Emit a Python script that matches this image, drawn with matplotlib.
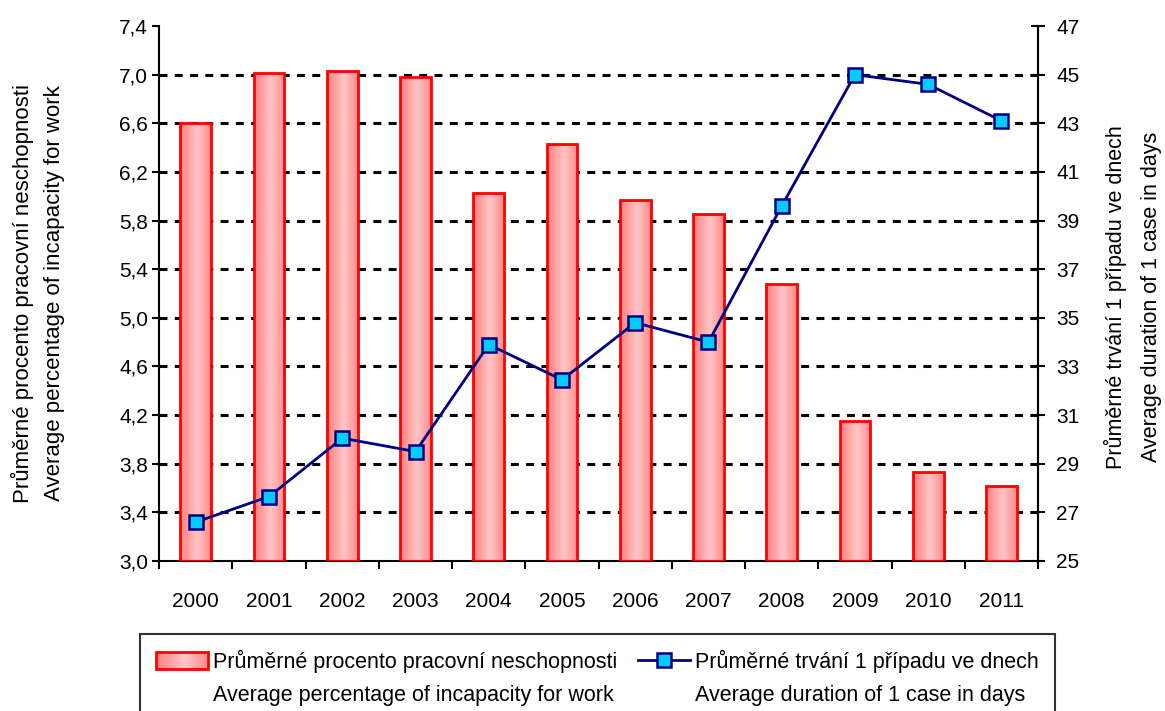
import numpy as np
import matplotlib
matplotlib.use("Agg")
import matplotlib.pyplot as plt
from matplotlib.colors import LinearSegmentedColormap
from matplotlib.patches import Rectangle
from matplotlib.lines import Line2D
from matplotlib.legend_handler import HandlerBase

# ---------- data ----------
years = ["2000", "2001", "2002", "2003", "2004", "2005",
         "2006", "2007", "2008", "2009", "2010", "2011"]
pct_incapacity = [6.60, 7.01, 7.03, 6.98, 6.03, 6.43,
                  5.97, 5.85, 5.28, 4.15, 3.73, 3.62]
avg_duration = [26.6, 27.65, 30.05, 29.5, 33.9, 32.45,
                34.8, 34.0, 39.6, 45.0, 44.6, 43.1]

left_ticks = [3.0, 3.4, 3.8, 4.2, 4.6, 5.0, 5.4, 5.8, 6.2, 6.6, 7.0, 7.4]
right_ticks = [25, 27, 29, 31, 33, 35, 37, 39, 41, 43, 45, 47]

label_bar = ["Průměrné procento pracovní neschopnosti",
             "Average percentage of incapacity for work"]
label_line = ["Průměrné trvání 1 případu ve dnech",
              "Average duration of 1 case in days"]

plt.rcParams["font.family"] = ["Liberation Sans", "DejaVu Sans"]
plt.rcParams["font.size"] = 15

# pink gradient used for the bars (darker edges, light middle)
grad = LinearSegmentedColormap.from_list(
    "pinkbar", [(0.0, "#ff7f7f"), (0.55, "#ffc6c6"), (1.0, "#ff8c8c")])


class GradientHandler(HandlerBase):
    def create_artists(self, legend, orig_handle, xdescent, ydescent,
                       width, height, fontsize, trans):
        arts = []
        n = 30
        for i in range(n):
            arts.append(Rectangle((-xdescent + width * i / n, -ydescent),
                                  width / n + 0.3, height,
                                  facecolor=grad((i + 0.5) / n),
                                  edgecolor="none", transform=trans))
        arts.append(Rectangle((-xdescent, -ydescent), width, height,
                              fill=False, edgecolor="#ff0000", lw=2,
                              transform=trans))
        return arts


fig = plt.figure(figsize=(11.65, 7.11), dpi=100)
ax = fig.add_axes([0.1367, 0.2110, 0.7543, 0.7524])

x = np.arange(len(years))
bw = 0.42
bars = ax.bar(x, np.array(pct_incapacity) - 3.0, bw, bottom=3.0,
              facecolor="none", edgecolor="#ff0000", linewidth=2, zorder=3)

# fill each bar with a horizontal gradient, clipped to the bar
gimg = np.linspace(0, 1, 64).reshape(1, -1)
for b in bars:
    x0, y0 = b.get_x(), b.get_y()
    w, h = b.get_width(), b.get_height()
    im = ax.imshow(gimg, cmap=grad, aspect="auto", interpolation="bilinear",
                   extent=(x0, x0 + w, y0, y0 + h), zorder=2)
    im.set_clip_path(b)
ax.set_xlim(-0.5, len(years) - 0.5)
ax.set_ylim(3.0, 7.4)

ax.set_yticks(left_ticks)
ax.set_yticklabels([f"{v:.1f}".replace(".", ",") for v in left_ticks])
ax.set_xticks(x)
ax.set_xticklabels(years)
ax.set_xticks(np.arange(len(years) + 1) - 0.5, minor=True)
ax.tick_params(axis="x", which="major", length=0, pad=22)
ax.tick_params(axis="x", which="minor", length=6, width=1.5, direction="out")
ax.tick_params(axis="y", length=5, width=1.5, direction="out", pad=3)

ax.set_axisbelow(True)
ax.yaxis.grid(True, color="black", linewidth=2.2, linestyle=(0, (2.6, 2.4)))
glines = ax.get_ygridlines()
glines[0].set_visible(False)
glines[-1].set_visible(False)

for side in ["left", "bottom", "right"]:
    ax.spines[side].set_linewidth(1.5)
ax.spines["top"].set_visible(False)

ax.set_ylabel("\n".join(label_bar), linespacing=1.65, fontsize=16)
ax.yaxis.set_label_coords(-0.107, 0.5)

# right axis: duration line
ax2 = ax.twinx()
ax2.plot(x, avg_duration, color="#000080", linewidth=2, marker="s",
         markersize=10, markerfacecolor="#00ccff", markeredgecolor="#000080",
         markeredgewidth=1.8, zorder=5)
ax2.set_ylim(25, 47)
ax2.set_yticks(right_ticks)
ax2.tick_params(axis="y", length=10, width=1.5, direction="inout", pad=8)
ax2.spines["top"].set_visible(False)
ax2.spines["left"].set_visible(False)
ax2.spines["bottom"].set_visible(False)
ax2.spines["right"].set_linewidth(1.5)
ax2.set_ylabel("\n".join(label_line), linespacing=1.85, rotation=90,
               fontsize=15.5)
ax2.yaxis.set_label_coords(1.0755, 0.493)

# legend: two columns, second line of each label as its own row
bar_handle = Rectangle((0, 0), 1, 1)
line_handle = Line2D([], [], color="#000080", linewidth=2, marker="s",
                     markersize=10, markerfacecolor="#00ccff",
                     markeredgecolor="#000080", markeredgewidth=1.8)
blank = Line2D([], [], linestyle="none")
leg = fig.legend([bar_handle, blank, line_handle, blank],
                 [label_bar[0], label_bar[1], label_line[0], label_line[1]],
                 ncol=2, loc="upper left", fontsize=15.5,
                 bbox_to_anchor=(140 / 1165, 1 - 634 / 711),
                 frameon=True, fancybox=False, borderaxespad=0,
                 handlelength=2.4, handleheight=0.85, handletextpad=0.25,
                 columnspacing=0.95, labelspacing=0.55, borderpad=0.75,
                 handler_map={Rectangle: GradientHandler()})
leg.get_frame().set_edgecolor("black")
leg.get_frame().set_linewidth(1.5)

fig.savefig("out.png", dpi=100)
